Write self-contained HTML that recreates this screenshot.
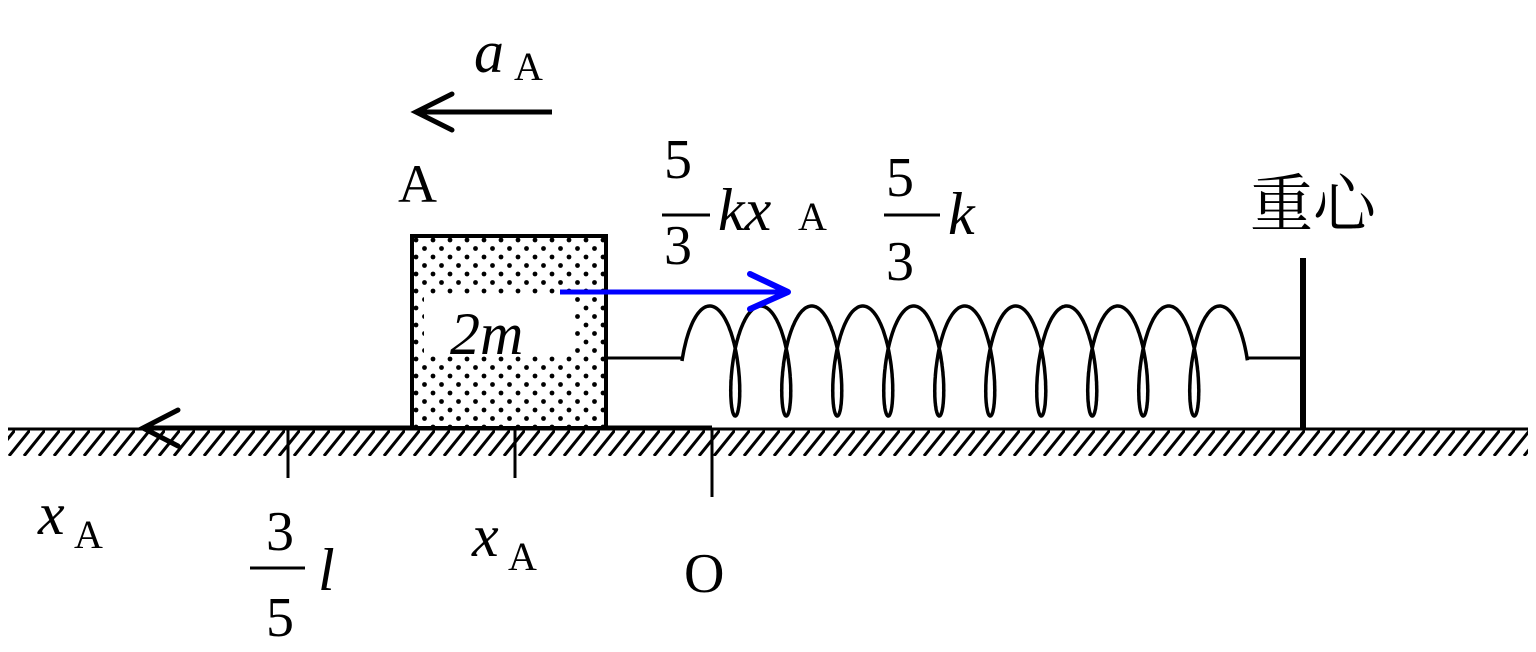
<!DOCTYPE html>
<html><head><meta charset="utf-8"><style>
body{margin:0;background:#fff;width:1536px;height:652px;overflow:hidden}
svg{display:block}
text{font-family:"Liberation Serif","Noto Serif CJK SC",serif;fill:#000}
.i{font-style:italic}
</style></head><body>
<svg width="1536" height="652" viewBox="0 0 1536 652">
<defs>
<pattern id="dots" width="17" height="17" patternUnits="userSpaceOnUse" x="412" y="236">
<circle cx="4" cy="4" r="2.4" fill="#000"/><circle cx="12.5" cy="12.5" r="2.4" fill="#000"/></pattern>
<pattern id="hatch" width="15" height="26" patternUnits="userSpaceOnUse" y="430">
<line x1="-6" y1="26" x2="15" y2="0" stroke="#000" stroke-width="3"/>
<line x1="9" y1="26" x2="30" y2="0" stroke="#000" stroke-width="3"/></pattern>
</defs>
<rect x="8" y="430" width="1520" height="26" fill="url(#hatch)"/>
<line x1="8" y1="429" x2="1528" y2="429" stroke="#000" stroke-width="3"/>
<line x1="145" y1="428" x2="712" y2="428" stroke="#000" stroke-width="5"/>
<polyline points="178,410 143,428 178,446" fill="none" stroke="#000" stroke-width="5" stroke-linecap="round"/>
<line x1="288" y1="430" x2="288" y2="478" stroke="#000" stroke-width="3"/>
<line x1="515" y1="430" x2="515" y2="478" stroke="#000" stroke-width="3"/>
<line x1="712" y1="428" x2="712" y2="497" stroke="#000" stroke-width="3"/>
<rect x="412" y="236" width="194" height="192" fill="#fff"/>
<rect x="412" y="236" width="194" height="192" fill="url(#dots)" stroke="#000" stroke-width="4"/>
<rect x="424" y="297" width="151" height="56" fill="#fff"/>
<text x="450" y="354" font-size="60" class="i">2m</text>
<line x1="606" y1="358" x2="683" y2="358" stroke="#000" stroke-width="3"/>
<path id="spring" fill="none" stroke="#000" stroke-width="3.5"/>
<line x1="1248" y1="358" x2="1303" y2="358" stroke="#000" stroke-width="3"/>
<line x1="1303" y1="258" x2="1303" y2="430" stroke="#000" stroke-width="6"/>
<line x1="560" y1="292" x2="786" y2="292" stroke="#0000ff" stroke-width="5"/>
<polyline points="750,274 788,292 750,309" fill="none" stroke="#0000ff" stroke-width="6" stroke-linecap="round" stroke-linejoin="round"/>
<line x1="418" y1="112" x2="552" y2="112" stroke="#000" stroke-width="5"/>
<polyline points="452,94 416,112 452,130" fill="none" stroke="#000" stroke-width="5" stroke-linecap="round"/>
<text x="474" y="72" font-size="60" class="i">a</text><text x="514" y="80" font-size="40">A</text>
<text x="398" y="202" font-size="54" font-family="Liberation Sans">A</text>
<text x="664" y="178" font-size="56">5</text>
<line x1="662" y1="215" x2="710" y2="215" stroke="#000" stroke-width="3"/>
<text x="664" y="264" font-size="56">3</text>
<text x="718" y="230" font-size="60" class="i">kx</text><text x="798" y="230" font-size="40">A</text>
<text x="886" y="196" font-size="56">5</text>
<line x1="884" y1="215" x2="940" y2="215" stroke="#000" stroke-width="3"/>
<text x="886" y="280" font-size="56">3</text>
<text x="948" y="234" font-size="60" class="i">k</text>
<text x="1250" y="226" font-size="63" font-family="Liberation Sans,Noto Sans CJK SC,sans-serif">重心</text>
<text x="38" y="534" font-size="60" class="i">x</text><text x="74" y="548" font-size="40">A</text>
<text x="266" y="550" font-size="56">3</text>
<line x1="250" y1="568" x2="305" y2="568" stroke="#000" stroke-width="3"/>
<text x="266" y="636" font-size="56">5</text>
<text x="318" y="590" font-size="60" class="i">l</text>
<text x="472" y="556" font-size="60" class="i">x</text><text x="508" y="570" font-size="40">A</text>
<text x="684" y="592" font-size="56">O</text>
</svg>
<script>
(function(){var p=51,r=15,R=55,cy=361,N=10;var x0=682+p/4+r;var d="";
for(var th=-Math.PI/2;th<=2*Math.PI*N+Math.PI/2+1e-6;th+=0.04){
var x=x0+p*th/(2*Math.PI)+r*Math.sin(th),y=cy-R*Math.cos(th);
d+=(d?"L":"M")+x.toFixed(1)+","+y.toFixed(1);}
document.getElementById("spring").setAttribute("d",d);})();
</script>
</body></html>
